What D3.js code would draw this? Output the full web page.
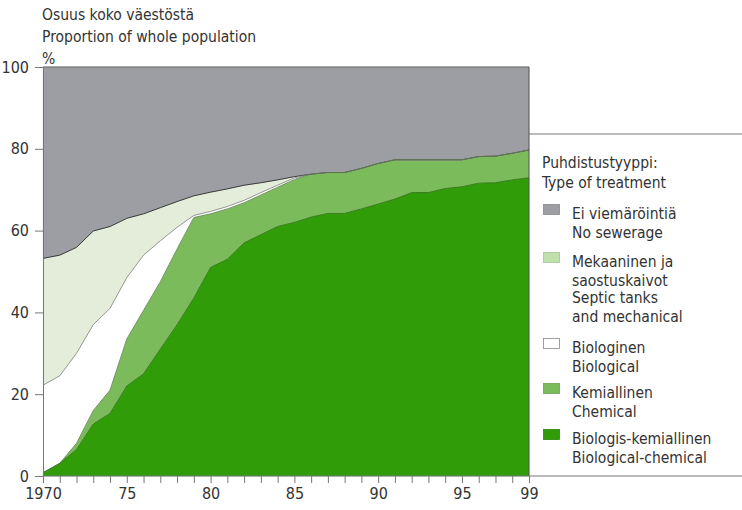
<!DOCTYPE html>
<html>
<head>
<meta charset="utf-8">
<script src="https://cdn.jsdelivr.net/npm/d3@7"></script>
<style>
  html, body { margin: 0; padding: 0; background: #ffffff; }
  svg { display: block; }
  text { font-family: "Liberation Sans Narrow", "DejaVu Sans Condensed", "Roboto Condensed", sans-serif; fill: #333; }
</style>
</head>
<body>
<svg id="chart" width="742" height="510"></svg>
<script>
// ---------- DATA ----------
const years = d3.range(1970, 2000);

// Share of whole population (%), per treatment type
const bioChemical = [0.8, 3.1, 6.5, 12.7, 15.3, 22, 25, 31, 37, 43.5, 51, 53, 57, 59, 61, 62, 63.3, 64.2, 64.2, 65.3, 66.5, 67.7, 69.3, 69.3, 70.3, 70.7, 71.6, 71.7, 72.4, 72.9];
const chemical    = [0, 0, 1.5, 3.3, 5.7, 11.5, 15.5, 16.5, 18.5, 19.7, 13.1, 12.3, 9.8, 9.7, 9.6, 10.5, 10.5, 10, 10, 9.9, 9.9, 9.6, 8, 8, 7, 6.6, 6.5, 6.5, 6.5, 6.8];
const biological  = [21.4, 21.4, 22, 21, 20, 15, 13.5, 10, 5.3, 0.5, 0.6, 0.6, 0.6, 0.6, 0.5, 0.4, 0, 0, 0, 0, 0, 0, 0, 0, 0, 0, 0, 0, 0, 0];
const septic      = [31, 29.5, 25.9, 22.9, 20, 14.5, 10.1, 8.1, 6.3, 4.8, 4.7, 4.3, 3.7, 2.4, 1.3, 0.3, 0, 0, 0, 0, 0, 0, 0, 0, 0, 0, 0, 0, 0, 0];
// No sewerage = remainder up to 100 %
const noSewerage  = years.map((_, i) => 100 - bioChemical[i] - chemical[i] - biological[i] - septic[i]);

const seriesKeys  = ["bioChemical", "chemical", "biological", "septic", "noSewerage"];
const seriesData  = { bioChemical, chemical, biological, septic, noSewerage };

const yTicks = [0, 20, 40, 60, 80, 100];
const xLabelYears = [1970, 1975, 1980, 1985, 1990, 1995, 1999];
const xLabels = ["1970", "75", "80", "85", "90", "95", "99"];

const titleLines = ["Osuus koko väestöstä", "Proportion of whole population", "%"];
const legendTitle = ["Puhdistustyyppi:", "Type of treatment"];
const legendItems = [
  { key: "noSewerage",  lines: ["Ei viemäröintiä", "No sewerage"] },
  { key: "septic",      lines: ["Mekaaninen ja", "saostuskaivot", "Septic tanks", "and mechanical"] },
  { key: "biological",  lines: ["Biologinen", "Biological"] },
  { key: "chemical",    lines: ["Kemiallinen", "Chemical"] },
  { key: "bioChemical", lines: ["Biologis-kemiallinen", "Biological-chemical"] }
];

// ---------- STYLE ----------
const fills = {
  bioChemical: "#2f9c08",
  chemical:    "#7cbb5c",
  biological:  "#ffffff",
  septic:      "#e4edda",
  noSewerage:  "#9c9ea3"
};
const swatchFills = Object.assign({}, fills, { septic: "#bfe0ab" });
const edgeStroke = {
  bioChemical: "#2a6a12",
  chemical:    "#557a45",
  biological:  "#7d7d7d",
  septic:      "#3a3a3a"
};

// ---------- CHART ----------
const svg = d3.select("#chart");
const x = d3.scaleLinear().domain([1970, 1999]).range([43, 529]);
const y = d3.scaleLinear().domain([0, 100]).range([476, 67]);

const table = years.map((yr, i) => {
  const row = { year: yr };
  seriesKeys.forEach(k => row[k] = seriesData[k][i]);
  return row;
});
const stacked = d3.stack().keys(seriesKeys)(table);

const area = d3.area()
  .x(d => x(d.data.year))
  .y0(d => y(d[0]))
  .y1(d => y(d[1]));

svg.append("g").selectAll("path")
  .data(stacked)
  .join("path")
  .attr("d", area)
  .attr("fill", d => fills[d.key])
  .attr("stroke", d => fills[d.key])
  .attr("stroke-width", 0.3);

// boundary lines between layers
const topLine = d3.line()
  .x(d => x(d.data.year))
  .y(d => y(d[1]));
svg.append("g").selectAll("path")
  .data(stacked.filter(s => edgeStroke[s.key]).reverse())
  .join("path")
  .attr("d", topLine)
  .attr("fill", "none")
  .attr("stroke", d => edgeStroke[d.key])
  .attr("stroke-width", d => d.key === "septic" ? 1 : 0.8);

// frame of the plotted block (top and right edges)
svg.append("line")
  .attr("x1", x(1970)).attr("x2", x(1999))
  .attr("y1", y(100)).attr("y2", y(100))
  .attr("stroke", "#666").attr("stroke-width", 1);
svg.append("line")
  .attr("x1", x(1999)).attr("x2", x(1999))
  .attr("y1", y(100)).attr("y2", y(0))
  .attr("stroke", "#555").attr("stroke-width", 1);

// ---------- AXES ----------
const yAxis = d3.axisLeft(y)
  .tickValues(yTicks)
  .tickSize(8)
  .tickPadding(6)
  .tickFormat(d3.format("d"));
const gy = svg.append("g").attr("transform", `translate(${x(1970)},0)`).call(yAxis);
gy.select(".domain").attr("stroke", "#777");
gy.selectAll(".tick line").attr("stroke", "#777");
gy.selectAll(".tick text").attr("font-size", 16).attr("fill", "#333")
  .style("font-family", "'Liberation Sans Narrow','DejaVu Sans Condensed',sans-serif");

const xAxis = d3.axisBottom(x)
  .tickValues(years)
  .tickSize(7)
  .tickPadding(5)
  .tickFormat(d => {
    const idx = xLabelYears.indexOf(d);
    return idx >= 0 ? xLabels[idx] : "";
  });
const gx = svg.append("g").attr("transform", `translate(0,${y(0)})`).call(xAxis);
gx.select(".domain").remove();
gx.selectAll(".tick line").attr("stroke", "#777");
gx.selectAll(".tick text").attr("font-size", 16).attr("fill", "#333")
  .style("font-family", "'Liberation Sans Narrow','DejaVu Sans Condensed',sans-serif");

// baseline running under the plot and the legend box
svg.append("line")
  .attr("x1", x(1970)).attr("x2", 742)
  .attr("y1", y(0)).attr("y2", y(0))
  .attr("stroke", "#777").attr("stroke-width", 1);

// ---------- TITLE ----------
svg.append("g").selectAll("text")
  .data(titleLines)
  .join("text")
  .attr("x", 42)
  .attr("y", (d, i) => 20 + i * 22)
  .attr("font-size", 15.5)
  .text(d => d);

// ---------- LEGEND ----------
svg.append("line")
  .attr("x1", x(1999)).attr("x2", 742)
  .attr("y1", 134).attr("y2", 134)
  .attr("stroke", "#777").attr("stroke-width", 1);

const lg = svg.append("g");
lg.selectAll("text.lt")
  .data(legendTitle)
  .join("text")
  .attr("class", "lt")
  .attr("x", 542)
  .attr("y", (d, i) => 168 + i * 20)
  .attr("font-size", 15.5)
  .text(d => d);

const itemTops = [219, 267, 353, 398, 444];
legendItems.forEach((it, i) => {
  const base = itemTops[i];
  lg.append("rect")
    .attr("x", 543.5).attr("y", base - 14.5)
    .attr("width", 16).attr("height", 10)
    .attr("fill", swatchFills[it.key])
    .attr("stroke", it.key === "biological" ? "#888" : d3.color(swatchFills[it.key]).darker(0.4))
    .attr("stroke-width", 0.8);
  let yy = base;
  it.lines.forEach((ln, j) => {
    if (j > 0) yy += (it.key === "septic" && j === 2) ? 17.5 : 18.5;
    lg.append("text")
      .attr("x", 572).attr("y", yy)
      .attr("font-size", 15.5)
      .text(ln);
  });
});
</script>
</body>
</html>
